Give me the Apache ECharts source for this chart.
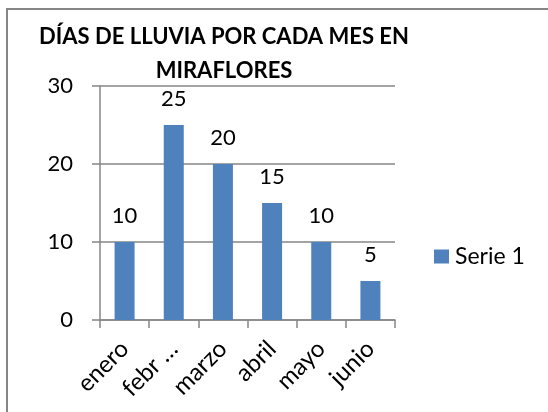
<!DOCTYPE html>
<html>
<head>
<meta charset="UTF-8">
<title></title>
<style>
  html, body { margin: 0; padding: 0; background: #fff; }
  #main { width: 548px; height: 412px; }
</style>
</head>
<body>
<div id="main"></div>
<script src="https://cdn.jsdelivr.net/npm/echarts@6/dist/echarts.min.js"></script>
<script>
var meses = ['enero', 'febr …', 'marzo', 'abril', 'mayo', 'junio'];
var dias = [10, 25, 20, 15, 10, 5];
var ticks = [0, 10, 20, 30];

var gris = '#868686';
var fuente = 'Lato';

var myChart = echarts.init(document.getElementById('main'));

var option = {
  backgroundColor: '#fff',
  animation: false,
  title: {
    text: 'DÍAS DE LLUVIA POR CADA MES EN\nMIRAFLORES',
    left: 224,
    top: 20,
    padding: 0,
    textAlign: 'center',
    textStyle: {
      fontFamily: fuente,
      fontWeight: 'bold',
      fontSize: 22,
      lineHeight: 34,
      color: '#000'
    }
  },
  legend: {
    data: ['Serie 1'],
    left: 434,
    top: 245,
    padding: 0,
    icon: 'rect',
    itemWidth: 15,
    itemHeight: 14,
    itemGap: 6,
    textStyle: { fontFamily: fuente, fontSize: 23, color: '#000', padding: [0, 0, 0, 1] }
  },
  grid: { left: 100, right: 153, top: 86, bottom: 92 },
  xAxis: {
    type: 'category',
    data: meses,
    axisLine: { lineStyle: { color: gris, width: 1.5 } },
    axisTick: { show: true, length: 8, lineStyle: { color: gris, width: 1.5 } },
    axisLabel: { rotate: 45, margin: 25, fontFamily: fuente, fontSize: 24, color: '#000' }
  },
  yAxis: {
    type: 'value',
    min: ticks[0],
    max: ticks[ticks.length - 1],
    interval: 10,
    axisLine: { show: true, lineStyle: { color: gris, width: 1.5 } },
    axisTick: { show: true, length: 8, lineStyle: { color: gris, width: 1.5 } },
    splitLine: { lineStyle: { color: gris, width: 1.5 } },
    axisLabel: { margin: 27, fontFamily: fuente, fontSize: 22, color: '#000' }
  },
  series: [{
    name: 'Serie 1',
    type: 'bar',
    data: dias,
    barWidth: 20,
    itemStyle: { color: '#4F81BD' },
    label: {
      show: true,
      position: 'top',
      distance: 15,
      fontFamily: fuente,
      fontSize: 22,
      color: '#000'
    }
  }],
  graphic: [{
    type: 'rect',
    shape: { x: 7, y: 9, width: 700, height: 600 },
    style: { fill: 'none', stroke: gris, lineWidth: 2 },
    silent: true
  }]
};

myChart.setOption(option);
</script>
</body>
</html>
